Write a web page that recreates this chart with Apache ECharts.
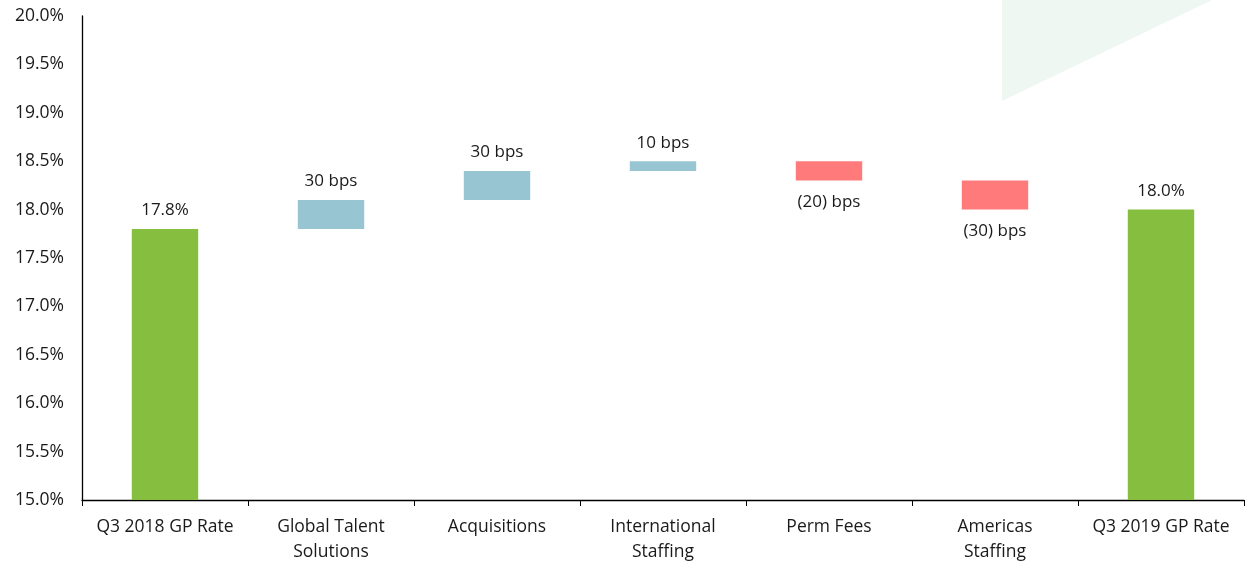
<!DOCTYPE html>
<html>
<head>
<meta charset="utf-8">
<script src="https://cdn.jsdelivr.net/npm/echarts@6/dist/echarts.min.js"></script>
<style>html,body{margin:0;padding:0;background:#fff}#c{width:1253px;height:565px}</style>
</head>
<body>
<div id="c"></div>
<script>
const categories = ['Q3 2018 GP Rate', 'Global Talent\nSolutions', 'Acquisitions', 'International\nStaffing', 'Perm Fees', 'Americas\nStaffing', 'Q3 2019 GP Rate'];
const startValue = 17.8;
const deltas = [0.3, 0.3, 0.1, -0.2, -0.3];   // percentage points
const endValue = 18.0;
const yTicks = { min: 15, max: 20, interval: 0.5 };

const colTotal = '#86BF3F', colUp = '#97C6D2', colDown = '#FF7B7B';

const baseData = [], barData = [];
barData.push({ value: startValue, itemStyle: { color: colTotal }, label: { position: 'top', formatter: startValue.toFixed(1) + '%' } });
baseData.push(0);
let run = startValue;
deltas.forEach(d => {
  const lo = d >= 0 ? run : run + d;
  baseData.push(+lo.toFixed(4));
  const bps = Math.round(Math.abs(d) * 100);
  barData.push({
    value: +Math.abs(d).toFixed(4),
    itemStyle: { color: d >= 0 ? colUp : colDown },
    label: d >= 0
      ? { position: 'top', formatter: bps + ' bps' }
      : { position: 'bottom', distance: 13, formatter: '(' + bps + ') bps' }
  });
  run += d;
});
baseData.push(0);
barData.push({ value: endValue, itemStyle: { color: colTotal }, label: { position: 'top', formatter: endValue.toFixed(1) + '%' } });

const font = '"Open Sans", "Noto Sans", sans-serif';
const chart = echarts.init(document.getElementById('c'));
chart.setOption({
  animation: false,
  graphic: [{
    type: 'polygon', z: -10,
    shape: { points: [[1002, 0], [1002, 101], [1212, 0]] },
    style: { fill: '#EFF7F2' }
  }],
  grid: { left: 82, right: 9, top: 16, bottom: 65 },
  xAxis: {
    type: 'category', data: categories,
    axisLine: { lineStyle: { color: '#000', width: 1.3 } },
    axisTick: { show: true, length: 6, lineStyle: { color: '#000' } },
    axisLabel: { color: '#1a1a1a', fontSize: 17.5, fontFamily: font, margin: 15, lineHeight: 25, interval: 0 }
  },
  yAxis: {
    type: 'value', min: yTicks.min, max: yTicks.max, interval: yTicks.interval,
    axisLine: { show: true, lineStyle: { color: '#000', width: 1.3 } },
    axisTick: { show: false },
    splitLine: { show: false },
    axisLabel: { color: '#1a1a1a', fontSize: 17.5, fontFamily: font, margin: 18, formatter: v => v.toFixed(1) + '%' }
  },
  series: [
    { type: 'bar', stack: 'w', data: baseData, itemStyle: { color: 'transparent' }, barWidth: '40%', silent: true },
    { type: 'bar', stack: 'w', data: barData, barWidth: '40%',
      label: { show: true, color: '#1a1a1a', fontSize: 17, fontFamily: font, distance: 10 } }
  ]
});
</script>
</body>
</html>
